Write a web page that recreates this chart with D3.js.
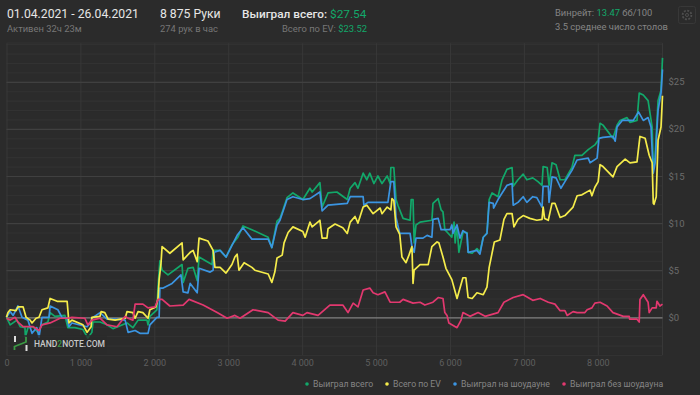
<!DOCTYPE html>
<html><head><meta charset="utf-8">
<script src="https://cdn.jsdelivr.net/npm/d3@7"></script>
<style>
html,body{margin:0;padding:0;background:#2b2b2b;overflow:hidden}
text{font-family:Roboto,"Noto Sans",sans-serif}
</style></head><body><svg id="c" width="700" height="395"></svg>
<script>
const totalHands=[0,50,140,185,250,255,290,360,425,480,560,590,655,790,830,925,1035,1100,1155,1170,1265,1360,1440,1630,1710,1780,1900,1915,1940,2035,2050,2075,2105,2185,2375,2390,2455,2525,2580,2605,2780,2795,2890,2970,3050,3130,3200,3320,3540,3590,3660,3700,3740,3795,3875,4010,4105,4135,4240,4270,4350,4470,4610,4650,4715,4755,4825,4875,4915,4970,5025,5080,5150,5190,5200,5240,5270,5295,5365,5460,5475,5500,5515,5540,5595,5755,5770,5840,5880,5905,5930,6025,6055,6070,6095,6120,6175,6230,6245,6300,6365,6405,6450,6500,6530,6570,6650,6705,6770,6840,6855,6920,6990,7040,7120,7190,7245,7260,7315,7340,7380,7435,7490,7555,7650,7690,7785,7870,7960,8005,8030,8070,8205,8260,8300,8395,8435,8530,8560,8615,8680,8735,8750,8775,8815,8855,8875];
const totalValues=[0,-.8,-.3,-1,-1.1,-2.1,-1.1,-1,-1.6,-.8,-.5,.5,.1,.2,-1.1,-1.1,-1.3,-2.2,-1.6,-.5,-.5,-.8,-1.2,-.6,-1.1,-.3,-.3,-.8,.1,.8,3.2,6,5,4.5,5.6,3.7,5.2,5.3,3.9,6.4,5.6,7.1,7.1,6.4,7.7,8.5,9.7,9.3,8.5,7.4,10.2,10.5,11.4,12.7,13.2,12.5,13.7,13.3,14.3,11.7,13.2,13.3,12.5,13.7,14.3,13.7,15.3,14.6,15.3,14.2,15,14.2,15,14.2,15.9,15.9,12.5,11.9,10.5,10.3,12.5,12.5,7.9,9.8,10.1,10.3,12.1,12.6,11.4,11.2,9.3,8.5,10.1,7.9,9.8,6.9,9,9,6.9,6.8,7.3,6.9,8.5,8.9,12.5,13.2,12.8,14.6,15.7,15.9,13.9,14.6,15.2,14.6,14.8,14.4,14,16,15.9,14,16.4,16.2,14.6,14.6,15.9,17.2,17.2,17.8,18.3,18.8,20.6,20.4,19,20.4,20.9,21.2,20.7,20.9,23.8,23.6,23,20.2,16,17,23,24.1,27.54];

const evHands=[0,20,50,130,155,225,265,320,345,400,440,480,560,590,685,820,845,885,1035,1090,1145,1155,1265,1280,1330,1375,1470,1605,1630,1710,1740,1780,1845,1915,1940,2020,2050,2065,2090,2105,2210,2375,2390,2485,2525,2580,2605,2725,2795,2820,2890,2970,3050,3090,3120,3145,3215,3320,3360,3540,3590,3630,3660,3730,3755,3810,3875,4010,4040,4105,4135,4240,4270,4335,4350,4445,4550,4610,4650,4715,4755,4825,4875,4960,5055,5080,5150,5200,5215,5240,5270,5320,5350,5405,5445,5485,5500,5515,5595,5705,5755,5825,5850,5905,5945,6025,6095,6175,6215,6245,6300,6365,6450,6500,6530,6600,6675,6730,6770,6840,6865,6920,6990,7080,7175,7245,7260,7280,7330,7380,7420,7490,7555,7665,7720,7785,7895,7920,7960,8005,8030,8070,8205,8260,8370,8435,8530,8570,8640,8695,8735,8750,8760,8790,8815,8855,8875];
const evValues=[0,.5,.8,.7,1.1,1.1,0,-.3,-.6,-.1,0,.8,1,2,1.7,1.7,-.6,-.3,-.8,-1.6,-1,0,.1,.6,.5,-.2,-.3,-.1,.6,.5,-.1,.6,.5,-.1,.8,1.1,2,4,5.7,7.5,6.8,7.9,6.1,6.9,7.1,5.9,8.4,8.1,7.1,5.3,5.3,4.7,5.6,6.4,6.7,5,5.8,5.3,5,4.6,3.7,4.8,6.3,6.6,7.9,9,9.6,9.1,8.5,10.1,9.6,10.3,8.4,8.4,9.4,9.9,9.5,8.9,10.1,10.7,10,11.7,11.9,11,11.6,11,11.7,11.4,12.6,12.4,9.6,8.8,6.4,5.8,6.6,7.5,3.6,5,5.6,5.6,7.5,8,7.9,6.4,5.2,4,2,4.2,4.2,2.1,2,2.6,2.4,3.2,5.3,8,8.2,10.4,11,11,9.6,10.4,10.8,10.5,10.3,10.4,11.7,10.5,10.3,12.1,12.1,10.6,10.8,11.7,12.9,13,13.5,12.9,13.8,14.4,16.2,16,14.9,16,16.8,16.4,16.5,19.2,19,17.2,16.4,12.1,12,12.8,18.8,20.2,23.52];

const showdownHands=[0,50,90,155,210,290,345,410,440,480,575,590,695,750,820,845,885,1090,1145,1155,1265,1360,1470,1605,1645,1740,1805,1915,1940,2035,2065,2075,2120,2240,2360,2390,2455,2485,2580,2605,2755,2795,2810,2890,2970,3120,3200,3320,3540,3590,3660,3700,3795,3875,4010,4105,4240,4270,4350,4610,4650,4825,4835,4890,5160,5200,5240,5270,5320,5460,5485,5515,5540,5635,5690,5755,5770,5840,5880,6000,6025,6040,6095,6135,6175,6230,6245,6365,6405,6450,6500,6530,6585,6590,6650,6705,6770,6840,6855,6920,6990,7040,7120,7175,7245,7260,7330,7340,7380,7435,7500,7555,7650,7720,7870,7895,7990,8015,8070,8205,8235,8260,8330,8480,8550,8615,8680,8720,8750,8775,8815,8855,8875];
const showdownValues=[0,.6,.2,1.2,0,-.3,-1.7,-1.1,-2.1,0,0,1.2,.8,0,-.1,-1,-.6,-1,-.5,-.1,.5,-.2,-.2,-.3,-1.6,-1.4,-1.7,-1.7,-.8,0,0,3.1,3.1,3.6,4.5,2.7,2.6,3.6,2.6,5.2,4.8,5,6.9,7.1,6.4,8.7,9.5,8.3,8.3,7.4,9.8,10.3,12.5,12.8,12.5,12.6,13.3,11.3,11.9,12.1,12.8,12.8,11.9,12.2,12.2,14.4,14.4,10.6,8.9,8.9,7.5,6.9,8.4,8.4,8.7,8.5,10.4,10.5,9.3,9.3,9.8,8.9,9.8,8.4,9.2,8.9,6.9,7.1,6.7,8.5,8.9,12.2,12.1,11.6,12.5,13.2,14,14.2,11.9,12.2,12.8,12.2,12.8,12.7,11.7,13.9,13.9,12.2,14.9,14.8,13.7,14.4,15.6,16.7,16.9,16.4,16.9,19,19.1,19.2,18.7,20.2,20.9,20.9,21.8,20.9,21.2,20.2,15.3,16.4,22,23.8,26.3];

const noShowdownHands=[0,50,115,155,225,360,440,480,590,725,830,885,1060,1100,1155,1265,1360,1495,1605,1645,1710,1740,1845,1915,2010,2050,2105,2210,2390,2470,2660,2850,2985,3090,3160,3335,3540,3675,3770,3875,4010,4065,4215,4375,4550,4620,4690,4755,4825,4915,4960,5025,5120,5190,5320,5365,5500,5595,5660,5770,5840,5905,5930,5960,5985,6095,6150,6175,6270,6380,6475,6650,6730,6855,6990,7120,7220,7330,7420,7490,7555,7585,7665,7720,7825,7855,7920,7960,8030,8125,8205,8345,8425,8430,8530,8560,8570,8615,8680,8695,8735,8790,8800,8840,8875];
const noShowdownValues=[-.1,-.3,0,-.5,-1,-1,-1.4,-.8,-.6,-.1,-.1,0,-.1,-.8,-.3,-.1,-.8,-1,.1,-.1,-.3,1.4,1.4,1,1.1,1.9,1.9,1.2,1.3,1.9,1.3,.5,-.1,.2,-.1,.8,.5,-.3,-.4,.5,.2,.5,.2,1.3,1.3,.5,1.5,1.1,2.9,3.1,2.6,2.4,2.7,1.6,1.6,1.9,1.5,1.6,1.3,1.6,2.1,2,.5,.2,-.6,-1.1,-.3,.5,.1,.5,.1,.5,1.6,2.1,2.4,1.8,2,1.6,1.4,.7,.7,.2,.6,.5,.5,.8,1,1.5,1.6,1.2,.5,.1,.1,-.2,-.2,-.5,1.9,2.4,1.6,.5,1,1,1.7,1.2,1.4];

const xTicks=[0,1000,2000,3000,4000,5000,6000,7000,8000];
const yTicks=[0,5,10,15,20,25];
const yMinorTicks=d3.range(-4,30);
const legendLabels=["Выиграл всего","Всего по EV","Выиграл на шоудауне","Выиграл без шоудауна"];
const seriesColors=["#12a86a","#f5ec4b","#3b95e2","#e2386f"];

const loc=d3.formatLocale({decimal:".",thousands:"\u00a0",grouping:[3],currency:["$",""]});
const svg=d3.select("#c");
const L=6.5,R=662.5,T=43,B=355;
const x=d3.scaleLinear().domain([0,8875]).range([L,R]);
const y=d3.scaleLinear().domain([0,25]).range([317.3,81.8]);

svg.append("rect").attr("width",700).attr("height",395).attr("fill","#2b2b2b");

const gMinor=svg.append("g").attr("transform",`translate(${L},0)`)
 .call(d3.axisRight(y).tickValues(yMinorTicks).tickSize(R-L).tickFormat(""));
gMinor.select(".domain").remove();
gMinor.selectAll("line").attr("stroke","#333333");
const gx=svg.append("g").attr("transform",`translate(0,${B})`)
 .call(d3.axisBottom(x).tickValues(xTicks).tickSize(-(B-T)).tickPadding(5).tickFormat(loc.format(",")));
gx.select(".domain").remove();
gx.selectAll("line").attr("stroke","#383838");
gx.selectAll("text").attr("fill","#5f5f5f").attr("font-size",9).attr("font-family","Roboto");
svg.append("line").attr("x1",R).attr("x2",R).attr("y1",T).attr("y2",B).attr("stroke","#383838");
svg.append("line").attr("x1",L).attr("x2",R).attr("y1",T).attr("y2",T).attr("stroke","#333333");
const gy=svg.append("g").attr("transform",`translate(${L},0)`)
 .call(d3.axisRight(y).tickValues(yTicks).tickSize(R-L).tickPadding(6).tickFormat(d=>"$"+d));
gy.select(".domain").remove();
gy.selectAll("line").attr("stroke",d=>d===0?"#808080":"#404040").attr("stroke-width",1.2);
gy.selectAll("text").attr("fill","#6c6c6c").attr("font-size",9.5).attr("font-family","Roboto");

const line=d3.line().x(d=>x(d[0])).y(d=>y(d[1]));
const series=[
 {h:totalHands,v:totalValues,c:seriesColors[0]},
 {h:showdownHands,v:showdownValues,c:seriesColors[2]},
 {h:evHands,v:evValues,c:seriesColors[1]},
 {h:noShowdownHands,v:noShowdownValues,c:seriesColors[3]}];
svg.append("g").selectAll("path").data(series).join("path")
 .attr("d",s=>line(s.h.map((h,i)=>[h,s.v[i]])))
 .attr("fill","none").attr("stroke",s=>s.c).attr("stroke-width",1.7).attr("stroke-linejoin","round");

const wm=svg.append("g");
wm.append("rect").attr("x",10).attr("y",335).attr("width",97).attr("height",19).attr("fill","#2b2b2b").attr("opacity",.75);
wm.append("path").attr("d","M14.5 350V346.5L26 342V337").attr("fill","none").attr("stroke","#3c9a45").attr("stroke-width",1.8);
wm.append("rect").attr("x",14).attr("y",336).attr("width",2).attr("height",6).attr("fill","#ddd");
wm.append("rect").attr("x",25.5).attr("y",345).attr("width",2).attr("height",6).attr("fill","#ddd");
const wt=wm.append("text").attr("x",34).attr("y",347).attr("font-size",8.5).attr("font-weight",500).attr("fill","#c8c8c8");
wt.append("tspan").text("HAND");
wt.append("tspan").attr("fill","#3c9a45").text("2");
wt.append("tspan").text("NOTE.COM");

function t(xp,yp,s,size,fill,anchor,weight){return svg.append("text").attr("x",xp).attr("y",yp).attr("font-size",size).attr("fill",fill).attr("text-anchor",anchor||"start").attr("font-weight",weight||400).text(s);}
t(7,18,"01.04.2021 - 26.04.2021",12.2,"#e6e6e6");
t(7,32,"Активен 32ч 23м",9.4,"#777777");
t(160,18,"8 875 Руки",12.2,"#e6e6e6");
t(160,32,"274 рук в час",9.4,"#777777");
const h1=t(242,18,"Выиграл всего: ",11.8,"#e6e6e6","start",500);
h1.append("tspan").attr("fill","#12a86a").attr("font-weight",400).text("$27.54");
const h2=t(367,32,"Всего по EV: ",9.4,"#777777","end");
h2.append("tspan").attr("fill","#12a86a").text("$23.52");
const h3=t(555,16,"Винрейт: ",9.4,"#858585");
h3.append("tspan").attr("fill","#12a86a").text("13.47");
h3.append("tspan").text(" бб/100");
t(555,30,"3.5 среднее число столов",9.4,"#858585");

svg.append("rect").attr("x",678.5).attr("y",6.5).attr("width",17).attr("height",17).attr("rx",2).attr("fill","none").attr("stroke","#383838");
svg.append("circle").attr("cx",687).attr("cy",15).attr("r",4.4).attr("fill","none").attr("stroke","#4e4e4e").attr("stroke-width",1.8).attr("stroke-dasharray","2 1.4");
svg.append("circle").attr("cx",687).attr("cy",15).attr("r",1.5).attr("fill","none").attr("stroke","#4e4e4e");

const legendX=[307,387,455,564];
const lg=svg.append("g").selectAll("g").data(legendLabels).join("g").attr("transform",(d,i)=>`translate(${legendX[i]},384)`);
lg.append("circle").attr("r",1.8).attr("fill",(d,i)=>seriesColors[i]);
lg.append("text").attr("x",6).attr("y",3.2).attr("font-size",8.7).attr("fill","#858585").text(d=>d);
</script></body></html>
